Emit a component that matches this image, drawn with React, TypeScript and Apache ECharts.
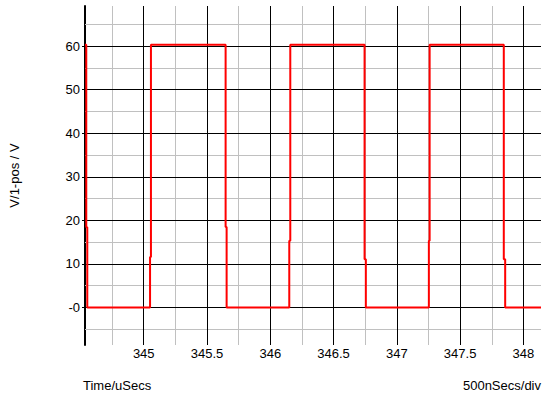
import React, { useEffect, useRef } from "react";
import * as echarts from "echarts";

// Waveform samples (time in µs, voltage in V)
const times = [
  344.536, 344.546, 344.546, 344.554, 344.554,
  345.05, 345.05, 345.057, 345.057,
  345.647, 345.647, 345.655, 345.655,
  346.15, 346.15, 346.158, 346.158,
  346.745, 346.745, 346.755, 346.755,
  347.253, 347.253, 347.259, 347.259,
  347.845, 347.845, 347.856, 347.856,
  348.139,
];
const volts = [
  60.3, 60.3, 18.4, 18.4, 0,
  0, 11.6, 11.6, 60.3,
  60.3, 18.5, 18.5, 0,
  0, 15.3, 15.3, 60.3,
  60.3, 11.1, 11.1, 0,
  0, 15.3, 15.3, 60.3,
  60.3, 11.1, 11.1, 0,
  0,
];

// Axis ticks
const xMajor = [345, 345.5, 346, 346.5, 347, 347.5, 348];
const xMinor = [344.75, 345.25, 345.75, 346.25, 346.75, 347.25, 347.75];
const yMajor = [0, 10, 20, 30, 40, 50, 60];
const yMinor = [-5, 5, 15, 25, 35, 45, 55, 65];

const FONT = "'Liberation Sans', Arial, sans-serif";

export default function App() {
  const ref = useRef<HTMLDivElement>(null);
  useEffect(() => {
    if (!ref.current) return;
    const chart = echarts.init(ref.current, null, { renderer: "svg" });
    const major = { color: "#000000", width: 1, type: "solid" };
    const minor = { color: "#c0c0c0", width: 1, type: "solid" };
    const gridLines = [
      ...yMinor.map((v) => ({ yAxis: v, lineStyle: minor })),
      ...xMinor.map((v) => ({ xAxis: v, lineStyle: minor })),
      ...yMajor.map((v) => ({ yAxis: v, lineStyle: major })),
      ...xMajor.map((v) => ({ xAxis: v, lineStyle: major })),
    ];
    chart.setOption({
      animation: false,
      backgroundColor: "#ffffff",
      grid: { left: 83, top: 6, right: 10, bottom: 57, containLabel: false },
      xAxis: {
        type: "value",
        min: 344.536,
        max: 348.139,
        axisLine: { show: false },
        axisTick: { show: false },
        splitLine: { show: false },
        axisLabel: {
          customValues: xMajor,
          margin: 2,
          color: "#000",
          fontFamily: FONT,
          fontSize: 13,
        },
      },
      yAxis: {
        type: "value",
        min: -8.6,
        max: 69.18,
        name: "V/1-pos / V",
        nameLocation: "middle",
        nameRotate: 90,
        nameGap: 64,
        nameTextStyle: { color: "#000", fontFamily: FONT, fontSize: 13 },
        axisLine: { show: true, lineStyle: { color: "#000", width: 2 } },
        axisTick: {
          show: true,
          customValues: yMajor,
          length: 3,
          lineStyle: { color: "#000", width: 1 },
        },
        splitLine: { show: false },
        axisLabel: {
          customValues: yMajor,
          margin: 5,
          color: "#000",
          fontFamily: FONT,
          fontSize: 13,
          formatter: (v: number) => (v === 0 ? "-0" : String(v)),
        },
      },
      graphic: [
        {
          type: "text",
          left: 83,
          top: 379,
          style: { text: "Time/uSecs", font: `13px ${FONT}`, fill: "#000" },
        },
        {
          type: "text",
          right: 10,
          top: 379,
          style: { text: "500nSecs/div", font: `13px ${FONT}`, fill: "#000" },
        },
      ],
      series: [
        {
          type: "line",
          data: [[348.139, 0]],
          showSymbol: false,
          symbol: "none",
          lineStyle: { width: 0, opacity: 0 },
          silent: true,
          z: 1,
          markLine: {
            z: 1,
            silent: true,
            symbol: ["none", "none"],
            label: { show: false },
            emphasis: { disabled: true },
            data: gridLines,
          },
        },
        {
          type: "line",
          z: 10,
          data: times.map((t, i) => [t, volts[i]]),
          showSymbol: false,
          symbol: "none",
          lineStyle: { color: "#ff0000", width: 2 },
          silent: true,
        },
      ],
    });
    return () => chart.dispose();
  }, []);
  return (
    <div
      ref={ref}
      style={{ position: "fixed", left: 0, top: 0, width: 551, height: 402 }}
    />
  );
}
